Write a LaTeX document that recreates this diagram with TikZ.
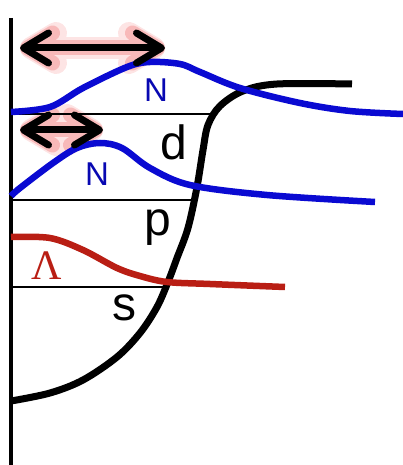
\documentclass[tikz,border=0pt]{standalone}
\usepackage{fontspec}
\setmainfont{Liberation Sans}
\newfontfamily\lamfont{Liberation Serif}
\usetikzlibrary{arrows.meta}

\definecolor{orbblue}{RGB}{10,10,210}
\definecolor{lamred}{RGB}{185,30,20}
\definecolor{glowouter}{RGB}{253,228,228}
\definecolor{glowinner}{RGB}{248,185,185}

\begin{document}
\begin{tikzpicture}[
      x=1pt,y=-1pt,
      axisline/.style={line width=3.2pt},
      levelline/.style={line width=2.6pt},
      potential/.style={line width=7pt},
      orbital/.style={line width=6.5pt,orbblue},
      hyperon/.style={line width=6.5pt,lamred},
      shelllabel/.style={anchor=base,inner sep=0pt,font=\fontsize{48}{48}\selectfont},
      nucllabel/.style={anchor=base,inner sep=0pt,text=orbblue!85!black,font=\fontsize{33}{33}\selectfont},
      rangearrow/.style={
        line width=7pt,
        {Straight Barb[length=25pt,width=30pt,round]}-{Straight Barb[length=25pt,width=30pt,round]}
      },
      rangeglow/.style={rangearrow,draw=#1}
    ]
    \useasboundingbox (0,0) rectangle (403,465);

    % ranges (glow first)
    \coordinate (upl) at (20,48);
    \coordinate (upr) at (165,48);
    \coordinate (lowl) at (20,130);
    \coordinate (lowr) at (103,130);
    \draw[rangeglow=glowouter,line width=22pt] (upl) -- (upr);
    \draw[rangeglow=glowinner,line width=15pt] (upl) -- (upr);
    \draw[rangeglow=glowouter,line width=22pt] (lowl) -- (lowr);
    \draw[rangeglow=glowinner,line width=15pt] (lowl) -- (lowr);

    % axis and levels
    \draw[axisline] (11,18) -- (11,465);
    \draw[levelline] (11,114) -- (213,114);
    \draw[levelline] (11,200) -- (192,200);
    \draw[levelline] (11,287) -- (167,287);

    % mean field potential
    \draw[potential] plot[smooth,tension=0.55] coordinates
      {(11,401) (50,393) (83,380) (117,357) (140,333) (157,307) (168,282)
       (177,258) (188,228) (197,187) (203,150) (208,125) (220,106) (243,91)
       (277,84) (352,84)};

    % wave functions
    \draw[hyperon] plot[smooth,tension=0.55] coordinates
      {(11,237) (50,238) (83,250) (117,268) (140,276) (167,282) (210,284) (285,287)};
    \draw[orbital] plot[smooth,tension=0.55] coordinates
      {(11,196) (20,188) (53,163) (77,148) (100,143) (122,148) (150,168)
       (190,185) (267,195) (375,202)};
    \draw[orbital] plot[smooth,tension=0.55] coordinates
      {(11,112) (50,107) (83,88) (127,67) (150,62) (180,64) (200,72)
       (240,88) (300,103) (350,111) (403,114)};

    % labels
    \node[shelllabel] (dlab) at (174,160) {d};
    \node[shelllabel] (plab) at (158,235) {p};
    \node[shelllabel] (slab) at (124,320) {s};
    \node[nucllabel] (nup) at (156,102) {N};
    \node[nucllabel] (nlow) at (97,185) {N};
    \node[anchor=base,inner sep=0pt,text=lamred,font=\lamfont\fontsize{42}{42}\selectfont]
      (lam) at (47,279) {Λ};

    % ranges
    \draw[rangearrow] (upl) -- (upr);
    \draw[rangearrow] (lowl) -- (lowr);
\end{tikzpicture}
\end{document}
